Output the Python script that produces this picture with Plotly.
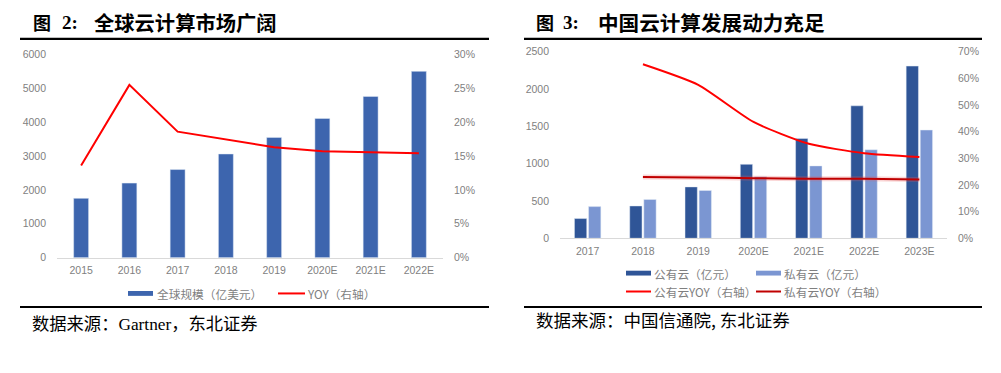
import plotly.graph_objects as go

# ---------------- data ----------------
global_years = ["2015", "2016", "2017", "2018", "2019", "2020E", "2021E", "2022E"]
global_scale = [1750, 2200, 2600, 3060, 3550, 4110, 4760, 5500]          # 亿美元
global_yoy = [0.136, 0.255, 0.186, 0.175, 0.163, 0.157, 0.155, 0.154]

cn_years = ["2017", "2018", "2019", "2020E", "2021E", "2022E", "2023E"]
public_cloud = [264, 433, 688, 990, 1337, 1773, 2305]                    # 亿元
private_cloud = [424, 519, 640, 822, 969, 1185, 1449]                    # 亿元
public_yoy = [None, 0.652, 0.575, 0.436, 0.354, 0.319, 0.305]
private_yoy = [None, 0.230, 0.228, 0.225, 0.223, 0.223, 0.220]

left_ticks = [0, 1000, 2000, 3000, 4000, 5000, 6000]
right_ticks = [0, 500, 1000, 1500, 2000, 2500]

# ---------------- styles ----------------
W, H = 1001, 373
C_BAR = "#3D65AE"
C_PUB = "#2F5597"
C_PRI = "#7B96D2"
C_RED = "#FF0000"
C_DRED = "#C00000"
GRAY = "#7F7F7F"
AXL = "#D9D9D9"
TICKF = dict(family="Liberation Sans, Arial, sans-serif", size=10.5, color=GRAY)
CJK = "Noto Sans CJK SC"


def px(x):
    return x / W


def py(y):
    return 1 - y / H


fig = go.Figure()

# ---- left chart ----
fig.add_trace(go.Bar(x=global_years, y=global_scale, marker_color=C_BAR, width=0.31,
                     name="全球规模（亿美元）", xaxis="x", yaxis="y", showlegend=False))
fig.add_trace(go.Scatter(x=global_years, y=global_yoy, mode="lines",
                         line=dict(color=C_RED, width=2), name="YOY（右轴）",
                         xaxis="x", yaxis="y2", showlegend=False))

# ---- right chart ----
fig.add_trace(go.Bar(x=cn_years, y=public_cloud, marker_color=C_PUB,
                     name="公有云（亿元）", xaxis="x2", yaxis="y3", showlegend=False))
fig.add_trace(go.Bar(x=cn_years, y=private_cloud, marker_color=C_PRI,
                     name="私有云（亿元）", xaxis="x2", yaxis="y3", showlegend=False))
fig.add_trace(go.Scatter(x=cn_years, y=public_yoy, mode="lines",
                         line=dict(color=C_RED, width=2, shape="spline", smoothing=0.6),
                         name="公有云YOY（右轴）", xaxis="x2", yaxis="y4", showlegend=False))
fig.add_trace(go.Scatter(x=cn_years, y=private_yoy, mode="lines",
                         line=dict(color="rgba(235,90,90,0.25)", width=5, shape="spline", smoothing=0.6),
                         hoverinfo="skip", xaxis="x2", yaxis="y4", showlegend=False))
fig.add_trace(go.Scatter(x=cn_years, y=private_yoy, mode="lines",
                         line=dict(color=C_DRED, width=2, shape="spline", smoothing=0.6),
                         name="私有云YOY（右轴）", xaxis="x2", yaxis="y4", showlegend=False))

xcommon = dict(type="category", showline=True, linecolor=AXL, linewidth=1, showgrid=False,
               ticks="", tickfont=TICKF, ticklabelstandoff=3, zeroline=False, fixedrange=True)
ycommon = dict(showline=False, showgrid=False, zeroline=False, ticks="", tickfont=TICKF,
               ticklabelstandoff=10, fixedrange=True)

fig.update_layout(
    width=W, height=H,
    margin=dict(l=0, r=0, t=0, b=0),
    paper_bgcolor="white", plot_bgcolor="white",
    barmode="group", bargap=0.49, bargroupgap=0.127,
    xaxis=dict(xcommon, domain=[px(57), px(443)], anchor="y",
               categoryorder="array", categoryarray=global_years),
    yaxis=dict(ycommon, domain=[py(260), py(50)], anchor="x", range=[0, 6000],
               tickvals=left_ticks),
    yaxis2=dict(ycommon, overlaying="y", side="right", anchor="x", range=[0, 0.30],
                dtick=0.05, tickformat=".0%"),
    xaxis2=dict(xcommon, domain=[px(560), px(947)], anchor="y3",
                categoryorder="array", categoryarray=cn_years),
    yaxis3=dict(ycommon, domain=[py(240), py(47)], anchor="x2", range=[0, 2500],
                tickvals=right_ticks),
    yaxis4=dict(ycommon, overlaying="y3", side="right", anchor="x2", range=[0, 0.70],
                dtick=0.1, tickformat=".0%"),
    showlegend=False,
)

shapes = []
annos = []


def rule(x0, x1, y):
    shapes.append(dict(type="line", xref="paper", yref="paper", x0=px(x0), x1=px(x1),
                       y0=py(y), y1=py(y), line=dict(color="black", width=2.2)))


def text(x, y, s, size, color="black", family=CJK, bold=False):
    if bold:
        s = "<b>" + s + "</b>"
    annos.append(dict(xref="paper", yref="paper", x=px(x), y=py(y), text=s, showarrow=False,
                      xanchor="left", yanchor="middle",
                      font=dict(family=family, size=size, color=color)))


# titles
text(31, 17, "图", 18, bold=True)
text(60, 17, "2:", 19, family="Liberation Serif, " + CJK, bold=True)
text(92, 17, "全球云计算市场广阔", 20.3, bold=True)
text(534, 17, "图", 18, bold=True)
text(561, 17, "3:", 19, family="Liberation Serif, " + CJK, bold=True)
text(596, 17, "中国云计算发展动力充足", 20.6, bold=True)

rule(20, 489, 34)
rule(524, 982, 34)
rule(20, 489, 311)
rule(524, 982, 311)

# sources
text(30, 327, "数据来源：<span style='font-family:Liberation Serif'>Gartner</span>，东北证券", 17.3)
text(534, 324, "数据来源：中国信通院, 东北证券", 17.5)


# legends
def patch(x0, x1, y, color):
    shapes.append(dict(type="rect", xref="paper", yref="paper", x0=px(x0), x1=px(x1),
                       y0=py(y + 2.5), y1=py(y - 2.5), line=dict(width=0), fillcolor=color))


def lseg(x0, x1, y, color):
    shapes.append(dict(type="line", xref="paper", yref="paper", x0=px(x0), x1=px(x1),
                       y0=py(y), y1=py(y), line=dict(color=color, width=2)))


LG = dict(size=11.7, color=GRAY)
patch(128, 153, 297, C_BAR)
text(155, 297, "全球规模（亿美元）", **LG)
lseg(278, 305, 297, C_RED)
text(305, 297, "YOY（右轴）", **LG)

patch(626, 651, 276, C_PUB)
text(652, 276, "公有云（亿元）", **LG)
patch(756, 781, 276, C_PRI)
text(782, 276, "私有云（亿元）", **LG)
lseg(626, 651, 295, C_RED)
text(652, 295, "公有云YOY（右轴）", **LG)
lseg(756, 781, 295, C_DRED)
text(782, 295, "私有云YOY（右轴）", **LG)

fig.update_layout(shapes=shapes, annotations=annos)
fig.write_html("out.html", config={"displayModeBar": False},
               post_script="document.body.style.margin='0';document.body.style.overflow='hidden';")
